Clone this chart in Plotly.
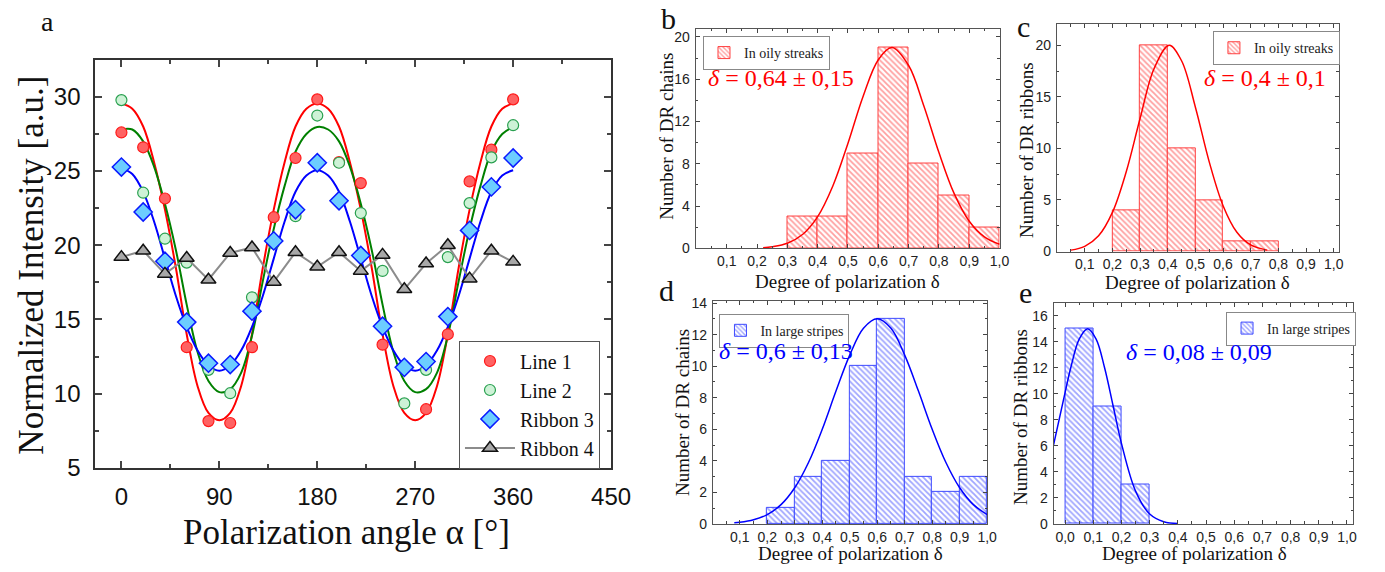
import plotly.graph_objects as go

W, H = 1385, 572

# ---------------- Panel a data ----------------
angles = [0, 20, 40, 60, 80, 100, 120, 140, 160, 180, 200, 220, 240, 260, 280, 300, 320, 340, 360]
line1 = [27.6, 26.6, 23.15, 13.13, 8.15, 8.02, 13.13, 21.89, 25.88, 29.83, 25.6, 24.19, 13.3, None, 8.95, 14.0, 24.3, 26.44, 29.83]
line2 = [29.78, 23.54, 20.44, 18.83, 11.6, 10.03, 16.49, 20.13, 21.96, 28.74, 25.56, 22.17, 18.27, 9.34, 11.6, 19.2, 22.84, 25.92, 28.09]
ribbon3 = [25.27, 22.24, 18.92, 14.82, 12.05, 11.96, 15.56, 20.29, 22.39, 25.56, 23.0, 19.31, 14.54, 11.77, 12.16, 15.19, 21.0, 23.93, 25.88]
ribbon4 = [19.2, 19.63, 18.07, 19.14, 17.68, 19.48, 19.85, 17.53, 19.53, 18.55, 19.53, 18.27, 19.35, 17.03, 18.77, 20.0, 17.75, 19.63, 18.88]

fit_angles = [0, 10, 20, 30, 40, 50, 60, 70, 80, 90, 100, 110, 120, 130, 140, 150, 160, 170, 180,
              190, 200, 210, 220, 230, 240, 250, 260, 270, 280, 290, 300, 310, 320, 330, 340, 350, 360]
fit_line1 = [29.56, 29.2, 28.0, 25.6, 22.4, 18.5, 14.0, 10.5, 8.7, 8.2,
             8.7, 10.5, 14.0, 18.5, 22.4, 25.6, 28.0, 29.2, 29.56,
             29.2, 28.0, 25.6, 22.4, 18.5, 14.0, 10.5, 8.7, 8.2,
             8.7, 10.5, 14.0, 18.5, 22.4, 25.6, 28.0, 29.2, 29.56]
fit_line2 = [27.8, 27.8, 27.0, 25.3, 22.8, 19.7, 16.0, 12.8, 10.85, 10.1,
             10.3, 11.4, 13.9, 17.6, 21.1, 24.0, 26.3, 27.5, 27.97,
             27.8, 27.0, 25.3, 22.8, 19.7, 16.0, 12.8, 10.85, 10.1,
             10.3, 11.4, 13.9, 17.6, 21.1, 24.0, 26.3, 27.5, 27.97]
fit_ribbon3 = [25.2, 24.8, 23.6, 21.6, 19.1, 16.6, 14.5, 12.9, 11.9, 11.55,
               11.9, 12.9, 14.5, 16.6, 19.1, 21.6, 23.6, 24.7, 25.06,
               24.7, 23.6, 21.6, 19.1, 16.6, 14.5, 12.9, 11.9, 11.55,
               11.9, 12.9, 14.5, 16.6, 19.1, 21.6, 23.6, 24.7, 25.05]

a_xticks = [0, 90, 180, 270, 360, 450]
a_yticks = [5, 10, 15, 20, 25, 30]

# ---------------- Histogram data ----------------
b_centers = [0.35, 0.45, 0.55, 0.65, 0.75, 0.85, 0.95]
b_counts = [3, 3, 9, 19, 8, 5, 2]
b_fit_x = [0.22, 0.25, 0.30, 0.35, 0.40, 0.45, 0.50, 0.55, 0.60, 0.645, 0.70, 0.75, 0.80, 0.85, 0.90, 0.95, 1.00]
b_fit_y = [0.07, 0.16, 0.49, 1.31, 3.0, 5.9, 9.95, 14.4, 17.85, 19.0, 17.3, 13.5, 9.07, 5.2, 2.57, 1.09, 0.39]

c_centers = [0.25, 0.35, 0.45, 0.55, 0.65, 0.75]
c_counts = [4, 20, 10, 5, 1, 1]
c_fit_x = [0.05, 0.10, 0.15, 0.20, 0.25, 0.30, 0.35, 0.405, 0.45, 0.50, 0.55, 0.60, 0.65, 0.70, 0.76]
c_fit_y = [0.14, 0.51, 1.53, 3.8, 7.74, 12.9, 17.7, 20.0, 18.5, 14.0, 8.7, 4.45, 1.87, 0.64, 0.14]

d_centers = [0.25, 0.35, 0.45, 0.55, 0.65, 0.75, 0.85, 0.95]
d_counts = [1, 3, 4, 10, 13, 3, 2, 3]
d_fit_x = [0.08, 0.10, 0.15, 0.20, 0.25, 0.30, 0.35, 0.40, 0.45, 0.50, 0.55, 0.60, 0.65, 0.70, 0.75, 0.80, 0.85, 0.90, 0.95, 1.00]
d_fit_y = [0.07, 0.10, 0.26, 0.59, 1.22, 2.29, 3.89, 6.0, 8.42, 10.7, 12.4, 13.0, 12.4, 10.7, 8.42, 6.0, 3.89, 2.29, 1.22, 0.59]

e_centers = [0.05, 0.15, 0.25]
e_counts = [15, 9, 3]
e_fit_x = [-0.041, 0.0, 0.02, 0.05, 0.08, 0.11, 0.14, 0.17, 0.20, 0.25, 0.30, 0.35, 0.40]
e_fit_y = [6.07, 10.1, 12.0, 14.2, 15.0, 14.2, 12.0, 9.1, 6.17, 2.52, 0.76, 0.17, 0.03]

hist_xticks_bcd = [0.1, 0.2, 0.3, 0.4, 0.5, 0.6, 0.7, 0.8, 0.9, 1.0]
hist_xticks_e = [0.0, 0.1, 0.2, 0.3, 0.4, 0.5, 0.6, 0.7, 0.8, 0.9, 1.0]

RED = "#ff0000"
BLUE = "#0000ff"
SERIF = "Liberation Serif"
SANS = "Liberation Sans"


def px_x(p):
    return p / W


def px_y(p):
    return 1 - p / H


fig = go.Figure()

# ---- Panel a ----
fig.add_trace(go.Scatter(x=fit_angles, y=fit_line1, mode="lines", line=dict(color=RED, width=2, shape="spline"),
                         showlegend=False, xaxis="x", yaxis="y", hoverinfo="skip"))
fig.add_trace(go.Scatter(x=fit_angles, y=fit_line2, mode="lines", line=dict(color="#008000", width=2, shape="spline"),
                         showlegend=False, xaxis="x", yaxis="y", hoverinfo="skip"))
fig.add_trace(go.Scatter(x=fit_angles, y=fit_ribbon3, mode="lines", line=dict(color=BLUE, width=2, shape="spline"),
                         showlegend=False, xaxis="x", yaxis="y", hoverinfo="skip"))
fig.add_trace(go.Scatter(x=angles, y=line1, mode="markers", name="Line 1",
                         marker=dict(symbol="circle", size=11, color="#ff6262", line=dict(color="#ff1a1a", width=1.2)),
                         xaxis="x", yaxis="y"))
fig.add_trace(go.Scatter(x=angles, y=line2, mode="markers", name="Line 2",
                         marker=dict(symbol="circle", size=11, color="#cdf2d6", line=dict(color="#2aa050", width=1.2)),
                         xaxis="x", yaxis="y"))
fig.add_trace(go.Scatter(x=angles, y=ribbon3, mode="markers", name="Ribbon 3",
                         marker=dict(symbol="diamond", size=14, color="#6ccdff", line=dict(color="#0a1aff", width=1.5)),
                         xaxis="x", yaxis="y"))
fig.add_trace(go.Scatter(x=angles, y=ribbon4, mode="lines+markers", name="Ribbon 4",
                         line=dict(color="#8c8c8c", width=2),
                         marker=dict(symbol="triangle-up", size=13, color="#a8a8a8", line=dict(color="#111111", width=1.5)),
                         xaxis="x", yaxis="y"))


def hist(centers, counts, fx, fy, col, pat_col, name, ax, leg):
    fig.add_trace(go.Bar(x=centers, y=counts, width=0.1, name=name,
                         marker=dict(color="white", line=dict(color=pat_col, width=1),
                                     pattern=dict(shape="\\", fgcolor=pat_col, bgcolor="white", size=4, solidity=0.45)),
                         xaxis="x" + ax, yaxis="y" + ax, legend=leg))
    fig.add_trace(go.Scatter(x=fx, y=fy, mode="lines", line=dict(color=col, width=1.5, shape="spline"),
                             showlegend=False, xaxis="x" + ax, yaxis="y" + ax, hoverinfo="skip"))


hist(b_centers, b_counts, b_fit_x, b_fit_y, RED, "#ff4040", "In oily streaks", "2", "legend2")
hist(c_centers, c_counts, c_fit_x, c_fit_y, RED, "#ff4040", "In oily streaks", "3", "legend3")
hist(d_centers, d_counts, d_fit_x, d_fit_y, BLUE, "#3f4bff", "In large stripes", "4", "legend4")
hist(e_centers, e_counts, e_fit_x, e_fit_y, BLUE, "#3f4bff", "In large stripes", "5", "legend5")

layout = dict(width=W, height=H, margin=dict(l=0, r=0, t=0, b=0), autosize=False,
              paper_bgcolor="white", plot_bgcolor="white", separators=",.",
              barmode="overlay", bargap=0)

# panel a axes
layout["xaxis"] = dict(domain=[px_x(96.7), px_x(620)], range=[-24, 450], anchor="y",
                       tickmode="array", tickvals=a_xticks, ticks="inside", ticklen=7, tickwidth=1.5,
                       minor=dict(ticks="inside", ticklen=4, tickmode="linear", tick0=0, dtick=45, tickwidth=1.5),
                       showline=True, linewidth=2, linecolor="#333", mirror="allticks",
                       showgrid=False, zeroline=False, ticklabelstandoff=6,
                       tickfont=dict(family=SANS, size=24, color="#111"))
layout["yaxis"] = dict(domain=[px_y(477.7), px_y(55.6)], range=[5, 32.5], anchor="x",
                       tickmode="array", tickvals=a_yticks, ticks="inside", ticklen=7, tickwidth=1.5,
                       minor=dict(ticks="inside", ticklen=4, tickmode="linear", tick0=5, dtick=2.5, tickwidth=1.5),
                       showline=True, linewidth=2, linecolor="#333", mirror="allticks",
                       showgrid=False, zeroline=False, ticklabelstandoff=8,
                       tickfont=dict(family=SANS, size=24, color="#111"))


def hist_axes(n, xdom, ydom, xr, yr, xt, yd, ymd):
    layout["xaxis" + n] = dict(domain=[px_x(xdom[0]), px_x(xdom[1])], range=xr, anchor="y" + n,
                               tickmode="array", tickvals=xt, tickformat=".1f", ticks="inside", ticklen=4,
                               minor=dict(ticks="inside", ticklen=2.5, tickmode="linear", tick0=0.05, dtick=0.1),
                               showline=True, linewidth=1, linecolor="#555", mirror="allticks",
                               showgrid=False, zeroline=False, ticklabelstandoff=0,
                               tickfont=dict(family=SANS, size=14, color="#222"))
    layout["yaxis" + n] = dict(domain=[px_y(ydom[1]), px_y(ydom[0])], range=yr, anchor="x" + n,
                               tickmode="linear", tick0=0, dtick=yd, ticks="inside", ticklen=4,
                               minor=dict(ticks="inside", ticklen=2.5, tickmode="linear", tick0=0, dtick=ymd),
                               showline=True, linewidth=1, linecolor="#555", mirror="allticks",
                               showgrid=False, zeroline=False, ticklabelstandoff=2,
                               tickfont=dict(family=SANS, size=14, color="#222"))


hist_axes("2", (705.7, 1014.3), (23.3, 250.7), [-0.003, 1.0003], [0, 20.8], hist_xticks_bcd, 4, 2)
hist_axes("3", (1072.3, 1358.3), (19, 254), [-0.001, 1.018], [0, 22.03], hist_xticks_bcd, 5, 2.5)
hist_axes("4", (723.3, 1001.7), (305, 535.7), [0.002, 1.0003], [0, 14.14], hist_xticks_bcd, 2, 1)
hist_axes("5", (1069, 1373.3), (306.7, 535.7), [-0.041, 1.023], [0, 17.01], hist_xticks_e, 2, 1)

layout["legend"] = dict(x=px_x(465.7), y=px_y(346), xanchor="left", yanchor="top",
                        bordercolor="#555", borderwidth=1, bgcolor="white",
                        font=dict(family=SERIF, size=20, color="#111"), itemwidth=50, tracegroupgap=0)


def small_legend(key, x, y):
    layout[key] = dict(x=px_x(x), y=px_y(y), xanchor="left", yanchor="top",
                       bordercolor="#888", borderwidth=1, bgcolor="white",
                       font=dict(family=SERIF, size=14, color="#222"), itemwidth=30, tracegroupgap=0)


small_legend("legend2", 713.3, 31)
small_legend("legend3", 1230.7, 26)
small_legend("legend4", 730, 318.3)
small_legend("legend5", 1244, 316)

ann = []


def text(t, x, y, size, color="#111", angle=0, xanchor="center", yanchor="middle", family=SERIF):
    ann.append(dict(text=t, x=px_x(x), y=px_y(y), xref="paper", yref="paper", showarrow=False,
                    xanchor=xanchor, yanchor=yanchor, textangle=angle,
                    font=dict(family=family, size=size, color=color)))


# axis titles
text("Normalized Intensity [a.u.]", 32, 268, 35, angle=-90)
text("Polarization angle α [°]", 352, 545, 35)
text("Degree of polarization δ", 860, 285, 19)
text("Degree of polarization δ", 1215, 286, 19)
text("Degree of polarization δ", 863, 566, 19)
text("Degree of polarization δ", 1212, 566, 19)
text("Number of DR chains", 676, 135, 19, angle=-90)
text("Number of DR ribbons", 1041, 149, 19, angle=-90)
text("Number of DR chains", 692, 421, 19, angle=-90)
text("Number of DR ribbons", 1036, 425, 19, angle=-90)

# fit results
text("<i>δ</i> = 0,64 ± 0,15", 716, 74, 24, color=RED, xanchor="left")
text("<i>δ</i> = 0,4 ± 0,1", 1220, 74, 24, color=RED, xanchor="left")
text("<i>δ</i> = 0,6 ± 0,13", 728, 357, 24, color=BLUE, xanchor="left")
text("<i>δ</i> = 0,08 ± 0,09", 1140, 358, 24, color=BLUE, xanchor="left")

# panel letters
text("a", 48, 16, 28)
text("b", 678, 13, 30)
text("c", 1038, 21, 30)
text("d", 676, 294, 30)
text("e", 1041, 296, 30)

layout["annotations"] = ann
fig.update_layout(**layout)

fig.write_html("out.html", config={"displayModeBar": False},
               post_script="document.body.style.margin='0';document.body.style.padding='0';")
